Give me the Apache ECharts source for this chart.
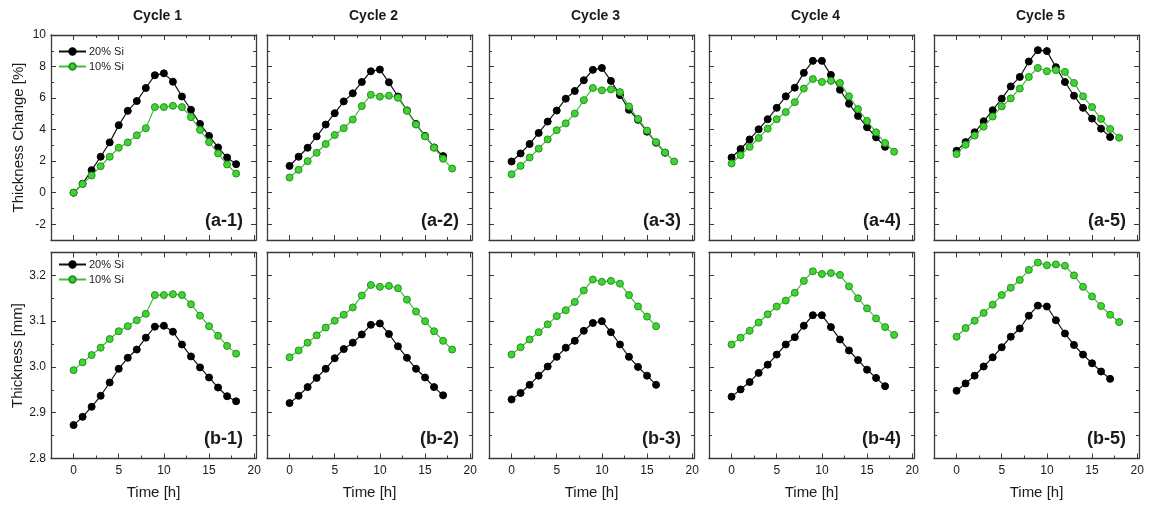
<!DOCTYPE html>
<html>
<head>
<meta charset="utf-8">
<script src="https://cdn.jsdelivr.net/npm/echarts@6/dist/echarts.min.js"></script>
<style>
  html, body { margin: 0; padding: 0; background: #ffffff; }
  #chart { width: 1157px; height: 505px; }
</style>
</head>
<body>
<div id="chart"></div>
<script>
// Time axis (hours)
const hours = [0, 1, 2, 3, 4, 5, 6, 7, 8, 9, 10, 11, 12, 13, 14, 15, 16, 17, 18];

// Thickness change [%] per cycle
const change20Cycle1 = [0.00, 0.57, 1.43, 2.28, 3.19, 4.28, 5.19, 5.81, 6.64, 7.45, 7.57, 7.04, 6.10, 5.26, 4.36, 3.60, 2.87, 2.23, 1.81];
const change10Cycle1 = [0.00, 0.55, 1.09, 1.68, 2.28, 2.85, 3.19, 3.64, 4.09, 5.43, 5.43, 5.51, 5.43, 4.79, 3.98, 3.21, 2.49, 1.79, 1.21];
const change20Cycle2 = [1.70, 2.28, 2.85, 3.57, 4.32, 5.04, 5.79, 6.30, 7.02, 7.70, 7.81, 7.00, 6.10, 5.22, 4.36, 3.60, 2.87, 2.32];
const change10Cycle2 = [0.96, 1.45, 2.00, 2.53, 3.09, 3.66, 4.09, 4.64, 5.49, 6.21, 6.09, 6.15, 6.02, 5.19, 4.32, 3.57, 2.85, 2.15, 1.53];
const change20Cycle3 = [1.98, 2.49, 3.09, 3.79, 4.51, 5.21, 5.96, 6.45, 7.13, 7.79, 7.91, 7.09, 6.19, 5.26, 4.62, 3.87, 3.17, 2.53];
const change10Cycle3 = [1.17, 1.70, 2.23, 2.79, 3.38, 3.96, 4.40, 5.02, 5.87, 6.64, 6.49, 6.55, 6.38, 5.47, 4.68, 3.94, 3.21, 2.55, 1.98];
const change20Cycle4 = [2.23, 2.77, 3.38, 4.02, 4.66, 5.38, 6.11, 6.66, 7.60, 8.36, 8.36, 7.47, 6.53, 5.64, 4.87, 4.15, 3.51, 2.91];
const change10Cycle4 = [1.85, 2.38, 2.91, 3.47, 4.06, 4.66, 5.11, 5.74, 6.60, 7.21, 7.02, 7.09, 6.96, 6.11, 5.30, 4.55, 3.83, 3.15, 2.60];
const change20Cycle5 = [2.66, 3.21, 3.83, 4.53, 5.23, 5.96, 6.74, 7.34, 8.32, 9.04, 8.98, 7.96, 7.02, 6.15, 5.38, 4.70, 4.06, 3.53];
const change10Cycle5 = [2.45, 3.04, 3.62, 4.19, 4.83, 5.47, 5.98, 6.60, 7.34, 7.91, 7.70, 7.77, 7.66, 6.96, 6.11, 5.43, 4.68, 4.04, 3.49];

// Thickness [mm] per cycle
const thick20Cycle1 = [2.873, 2.891, 2.913, 2.937, 2.966, 2.996, 3.020, 3.038, 3.064, 3.088, 3.090, 3.077, 3.049, 3.023, 2.999, 2.977, 2.955, 2.936, 2.925];
const thick10Cycle1 = [2.993, 3.010, 3.026, 3.042, 3.061, 3.078, 3.089, 3.102, 3.116, 3.157, 3.157, 3.159, 3.157, 3.137, 3.112, 3.089, 3.068, 3.046, 3.029];
const thick20Cycle2 = [2.921, 2.937, 2.956, 2.976, 2.996, 3.019, 3.039, 3.053, 3.071, 3.092, 3.095, 3.072, 3.045, 3.020, 2.996, 2.977, 2.956, 2.938];
const thick10Cycle2 = [3.021, 3.036, 3.053, 3.069, 3.086, 3.101, 3.114, 3.130, 3.156, 3.179, 3.175, 3.177, 3.172, 3.147, 3.121, 3.100, 3.078, 3.057, 3.038];
const thick20Cycle3 = [2.929, 2.943, 2.961, 2.981, 3.001, 3.022, 3.042, 3.057, 3.079, 3.096, 3.100, 3.076, 3.049, 3.022, 3.000, 2.981, 2.961];
const thick10Cycle3 = [3.027, 3.043, 3.060, 3.076, 3.093, 3.111, 3.124, 3.142, 3.167, 3.191, 3.186, 3.188, 3.182, 3.157, 3.132, 3.110, 3.089];
const thick20Cycle4 = [2.935, 2.951, 2.967, 2.987, 3.005, 3.027, 3.049, 3.065, 3.090, 3.113, 3.113, 3.087, 3.060, 3.036, 3.015, 2.994, 2.976, 2.958];
const thick10Cycle4 = [3.049, 3.064, 3.079, 3.097, 3.115, 3.132, 3.145, 3.162, 3.188, 3.209, 3.203, 3.205, 3.201, 3.176, 3.150, 3.128, 3.106, 3.087, 3.070];
const thick20Cycle5 = [2.948, 2.964, 2.981, 3.001, 3.021, 3.043, 3.066, 3.084, 3.112, 3.134, 3.132, 3.102, 3.073, 3.048, 3.027, 3.008, 2.990, 2.974];
const thick10Cycle5 = [3.066, 3.085, 3.101, 3.118, 3.136, 3.157, 3.173, 3.190, 3.212, 3.228, 3.222, 3.224, 3.221, 3.200, 3.175, 3.154, 3.133, 3.114, 3.098];

// Labels and ticks
const cycleTitles = ['Cycle 1', 'Cycle 2', 'Cycle 3', 'Cycle 4', 'Cycle 5'];
const panelTagsTop = ['(a-1)', '(a-2)', '(a-3)', '(a-4)', '(a-5)'];
const panelTagsBottom = ['(b-1)', '(b-2)', '(b-3)', '(b-4)', '(b-5)'];
const seriesNames = ['20% Si', '10% Si'];
const timeTicks = [0, 5, 10, 15, 20];
const timeMinorTicks = [2.5, 7.5, 12.5, 17.5];
const changeTicks = [-2, 0, 2, 4, 6, 8, 10];
const changeMinorTicks = [-3, -1, 1, 3, 5, 7, 9];
const thickTicks = [2.8, 2.9, 3.0, 3.1, 3.2];
const thickMinorTicks = [2.85, 2.95, 3.05, 3.15, 3.25];

const changeRows = [
  [change20Cycle1, change10Cycle1], [change20Cycle2, change10Cycle2], [change20Cycle3, change10Cycle3],
  [change20Cycle4, change10Cycle4], [change20Cycle5, change10Cycle5]
];
const thickRows = [
  [thick20Cycle1, thick10Cycle1], [thick20Cycle2, thick10Cycle2], [thick20Cycle3, thick10Cycle3],
  [thick20Cycle4, thick10Cycle4], [thick20Cycle5, thick10Cycle5]
];

// Layout
const colLeft = [51, 267, 489, 709, 934];
const colWidth = 205;
const rowTop = [35, 252.5];
const rowHeight = [205, 206];
const frameColor = '#3a3a3a';
const textColor = '#1a1a1a';
const font = 'Arial, "Liberation Sans", Helvetica, sans-serif';
const blackStyle = { line: '#111111', fill: '#000000', border: '#000000' };
const greenStyle = { line: '#3fbf35', fill: '#3ed433', border: '#2a8f22' };

const grids = [], xAxes = [], yAxes = [], series = [], graphics = [];

function axisPair(kind, gridIndex, pos, range, majors, minors, labelOpts, nameOpts) {
  const list = kind === 'x' ? xAxes : yAxes;
  const base = {
    type: 'value', gridIndex, position: pos, min: range[0], max: range[1],
    splitLine: { show: false }, axisPointer: { show: false }
  };
  list.push(Object.assign({}, base, {
    axisLine: { show: true, onZero: false, lineStyle: { color: frameColor, width: 1.3 } },
    axisTick: { show: true, inside: true, length: 5, customValues: majors, lineStyle: { color: frameColor, width: 1 } },
    axisLabel: labelOpts ? Object.assign({ show: true, customValues: majors, color: textColor, fontSize: 12, fontFamily: font }, labelOpts) : { show: false }
  }, nameOpts || {}));
  list.push(Object.assign({}, base, {
    axisLine: { show: false, onZero: false },
    axisTick: { show: true, inside: true, length: 3, customValues: minors, lineStyle: { color: frameColor, width: 1 } },
    axisLabel: { show: false }
  }));
}

for (let r = 0; r < 2; r++) {
  for (let c = 0; c < 5; c++) {
    const g = grids.length;
    grids.push({ left: colLeft[c], top: rowTop[r], width: colWidth, height: rowHeight[r], containLabel: false });
    const xr = [-2.5, 20.2];
    const yr = r === 0 ? [-3, 10] : [2.8, 3.25];
    const yMaj = r === 0 ? changeTicks : thickTicks;
    const yMin = r === 0 ? changeMinorTicks : thickMinorTicks;

    const xIdx = xAxes.length;
    axisPair('x', g, 'bottom', xr, timeTicks, timeMinorTicks,
      r === 1 ? { margin: 6 } : null,
      r === 1 ? { name: 'Time [h]', nameLocation: 'middle', nameGap: 27,
                  nameTextStyle: { fontSize: 15, color: textColor, fontFamily: font } } : null);
    axisPair('x', g, 'top', xr, timeTicks, timeMinorTicks, null, null);

    const yIdx = yAxes.length;
    const yLabel = c === 0 ? { margin: 5, formatter: r === 0 ? (v => String(Math.round(v))) : (v => v.toFixed(1)) } : null;
    const yName = c === 0 ? { name: r === 0 ? 'Thickness Change [%]' : 'Thickness [mm]', nameLocation: 'middle', nameGap: 25,
                              nameTextStyle: { fontSize: 15, color: textColor, fontFamily: font } } : null;
    axisPair('y', g, 'left', yr, yMaj, yMin, yLabel, yName);
    axisPair('y', g, 'right', yr, yMaj, yMin, null, null);

    const pair = r === 0 ? changeRows[c] : thickRows[c];
    [blackStyle, greenStyle].forEach((st, k) => {
      series.push({
        type: 'line', name: seriesNames[k], xAxisIndex: xIdx, yAxisIndex: yIdx,
        data: pair[k].map((v, i) => [hours[i], v]),
        symbol: 'circle', symbolSize: 7, z: 2 + k,
        lineStyle: { color: st.line, width: 1.2 },
        itemStyle: { color: st.fill, borderColor: st.border, borderWidth: 1 },
        emphasis: { disabled: true }, animation: false
      });
    });

    const tag = r === 0 ? panelTagsTop[c] : panelTagsBottom[c];
    graphics.push({
      type: 'text', z: 10,
      x: colLeft[c] + colWidth - 13, y: rowTop[r] + rowHeight[r] - 19,
      style: { text: tag, textAlign: 'right', textVerticalAlign: 'middle', fill: textColor,
               font: 'bold 18px ' + font }
    });
  }
}

cycleTitles.forEach((t, c) => {
  graphics.push({
    type: 'text', x: colLeft[c] + colWidth / 2 + 4, y: 16,
    style: { text: t, textAlign: 'center', textVerticalAlign: 'middle', fill: textColor, font: 'bold 14px ' + font }
  });
});

const legendBase = {
  orient: 'vertical', left: 58, itemWidth: 27, itemHeight: 8, itemGap: 4, selectedMode: false,
  padding: 0, data: seriesNames,
  textStyle: { fontSize: 11, color: textColor, fontFamily: font, padding: [0, 0, 0, -2] }
};

const chart = echarts.init(document.getElementById('chart'), null, { renderer: 'canvas' });
chart.setOption({
  backgroundColor: '#ffffff',
  animation: false,
  grid: grids,
  xAxis: xAxes,
  yAxis: yAxes,
  series: series,
  legend: [
    Object.assign({}, legendBase, { top: 46 }),
    Object.assign({}, legendBase, { top: 259 })
  ],
  graphic: graphics
});
</script>
</body>
</html>
